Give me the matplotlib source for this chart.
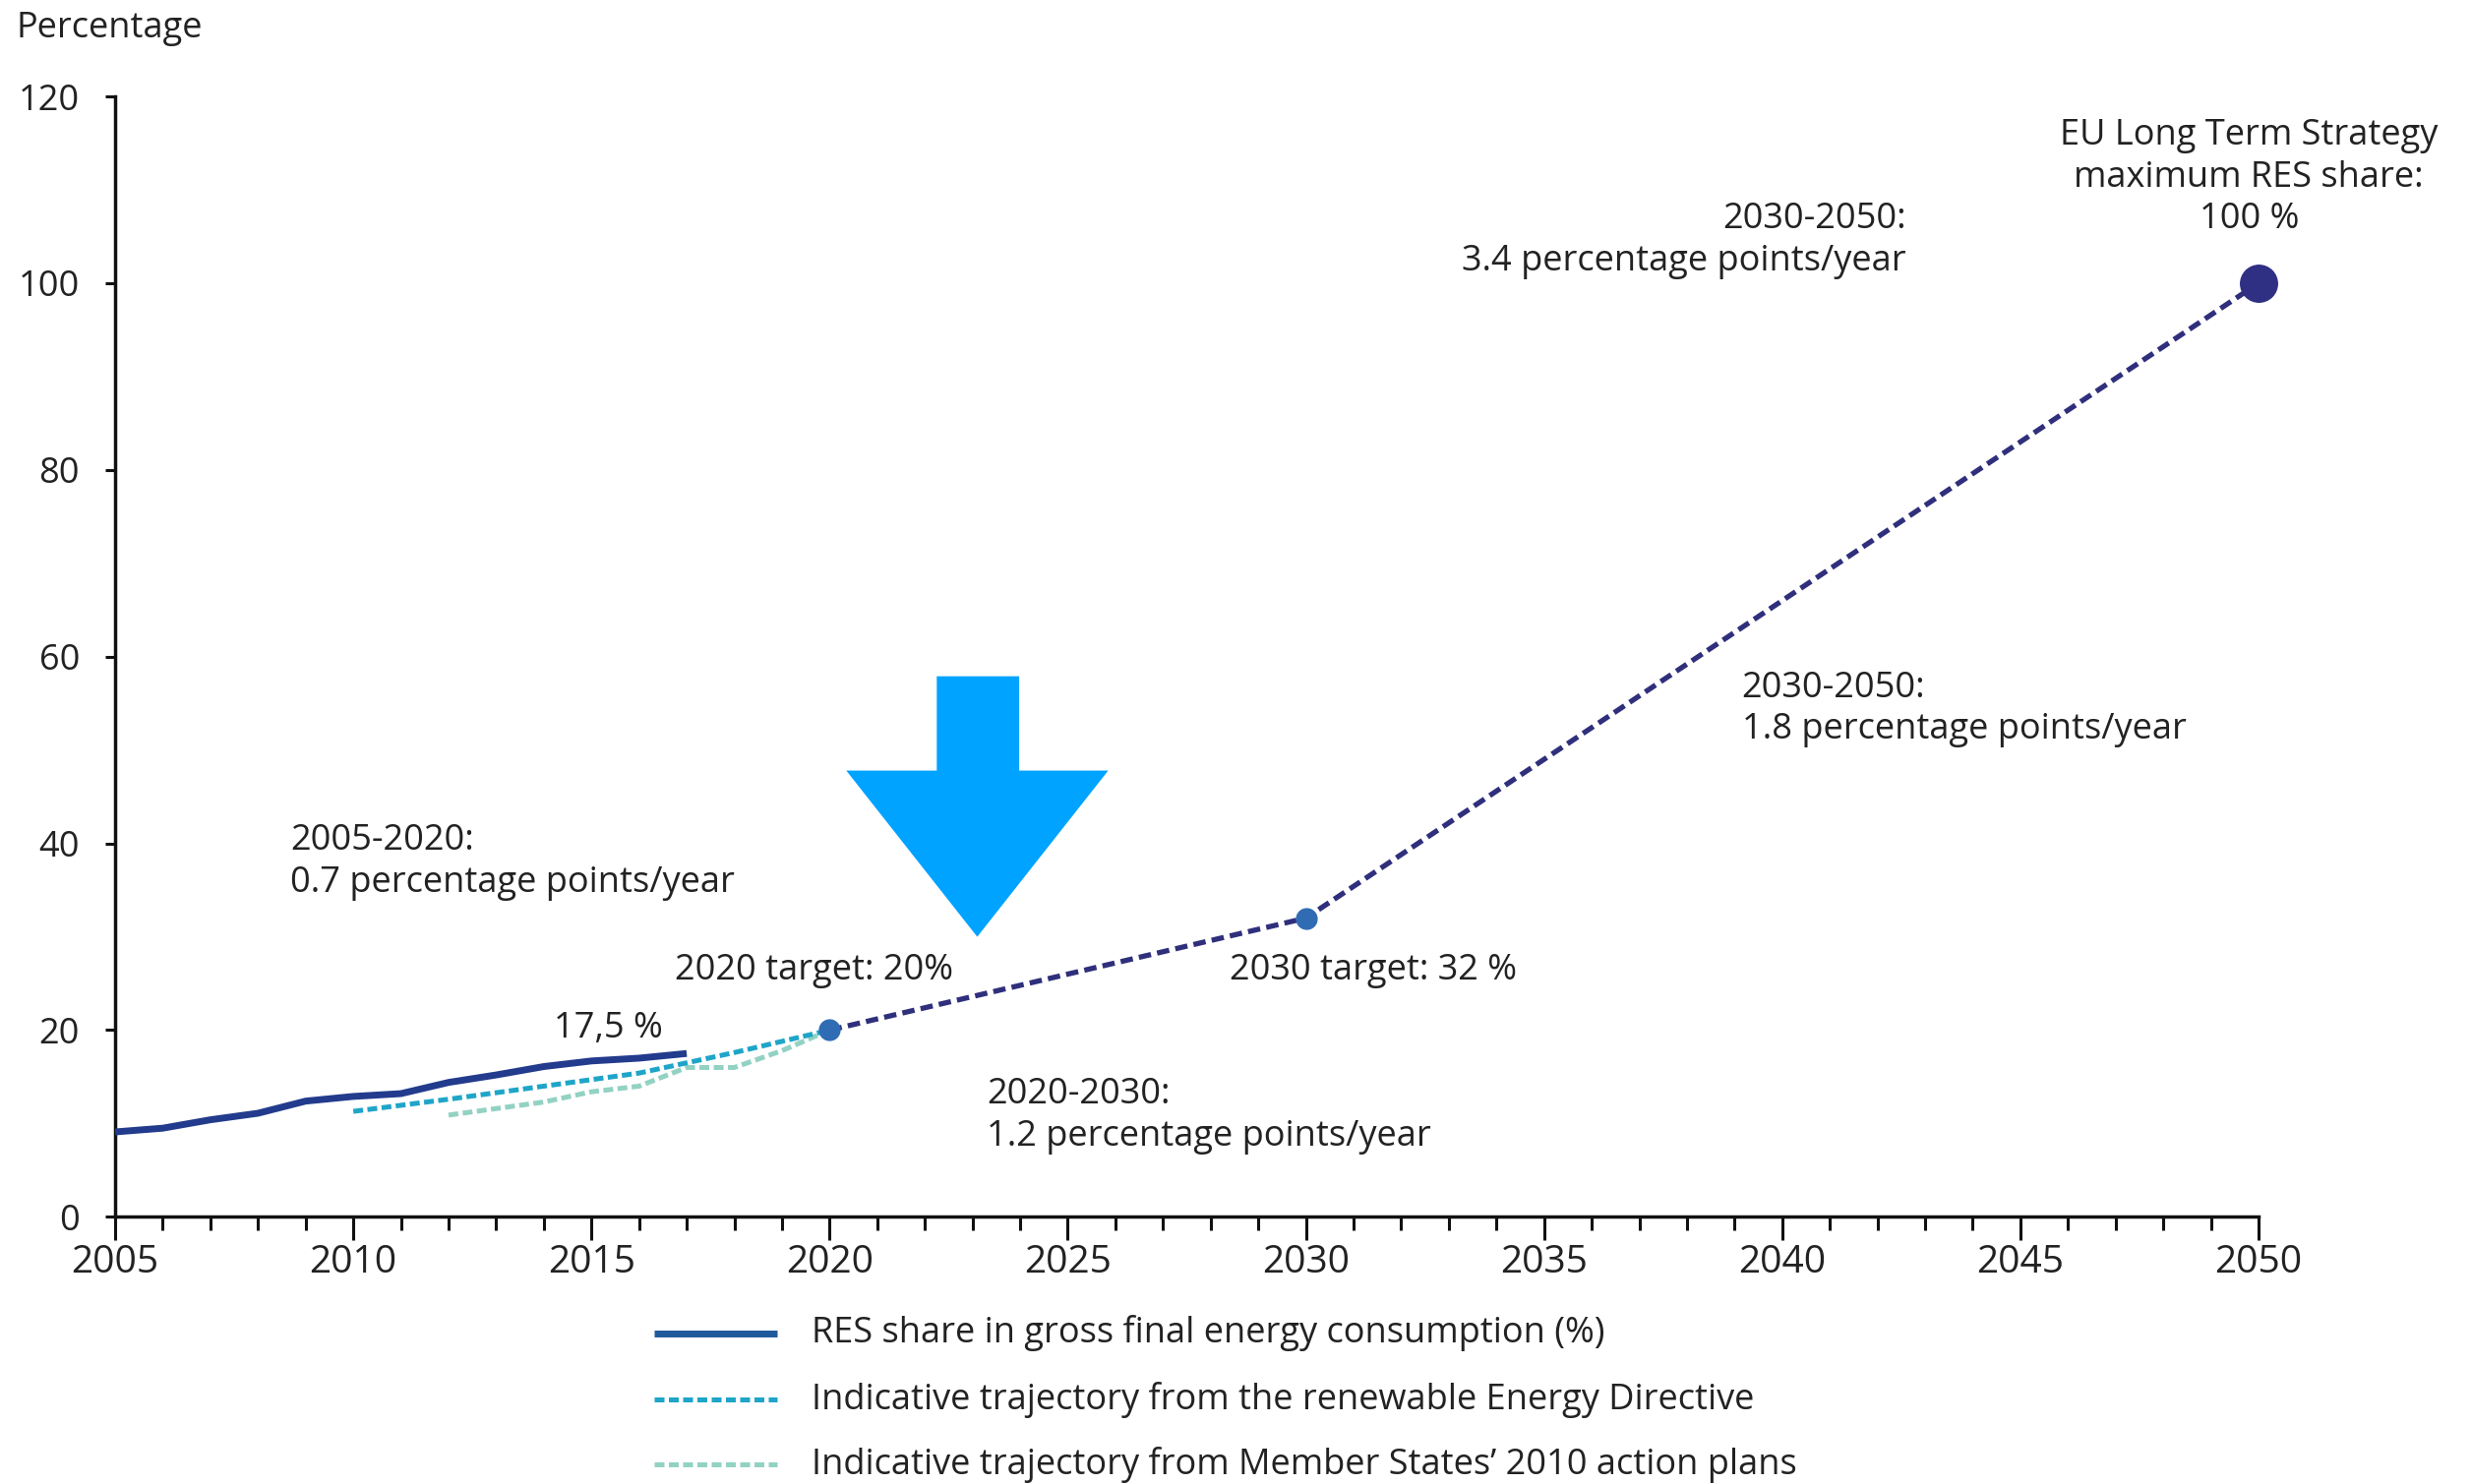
import matplotlib
matplotlib.use("Agg")
import matplotlib.pyplot as plt
from matplotlib.lines import Line2D
from matplotlib.patches import Polygon

plt.rcParams['font.family'] = ['Open Sans', 'DejaVu Sans']

# ---- data ----
res_years = [2005, 2006, 2007, 2008, 2009, 2010, 2011, 2012, 2013, 2014, 2015, 2016, 2017]
res_share = [9.1, 9.5, 10.4, 11.1, 12.4, 12.9, 13.2, 14.4, 15.2, 16.1, 16.7, 17.0, 17.5]

red_years = [2010, 2012, 2014, 2016, 2017, 2018, 2020]
red_share = [11.3, 12.6, 14.0, 15.4, 16.5, 17.6, 20.0]

nreap_years = [2012, 2013, 2014, 2015, 2016, 2017, 2018, 2019, 2020]
nreap_share = [10.9, 11.6, 12.3, 13.4, 14.0, 16.0, 16.0, 17.8, 20.0]

proj_years = [2020, 2030, 2050]
proj_share = [20.0, 32.0, 100.0]

target_years = [2020, 2030]
target_share = [20.0, 32.0]

lts_year = [2050]
lts_share = [100.0]

legend_labels = ["RES share in gross final energy consumption (%)",
                 "Indicative trajectory from the renewable Energy Directive",
                 "Indicative trajectory from Member States\u2019 2010 action plans"]

# arrow polygon (annotation shape, in data units)
arrow_x = [2022.25, 2023.98, 2023.98, 2025.85, 2023.1, 2020.35, 2022.25]
arrow_y = [57.9, 57.9, 47.8, 47.8, 30.0, 47.8, 47.8]

C_RES = "#223b8c"
C_RED = "#1ea5c8"
C_NREAP = "#92d2c3"
C_PROJ = "#2f2f7c"
C_TGT = "#2f6cb4"
C_LTS = "#2f2f84"
TXT = "#222222"
FS = 26
LS = 1.25

fig = plt.figure(figsize=(25.12, 15.09), dpi=100)
ax = fig.add_axes([0.0466, 0.180, 0.8674, 0.755])

ax.plot(proj_years, proj_share, color=C_PROJ, lw=3.8, dashes=(2.4, 1.2), zorder=3)
ax.plot(nreap_years, nreap_share, color=C_NREAP, lw=3.6, dashes=(2.0, 0.9), zorder=3)
ax.plot(red_years, red_share, color=C_RED, lw=3.6, dashes=(2.0, 0.9), zorder=4)
ax.plot(res_years, res_share, color=C_RES, lw=5.0, solid_capstyle='butt', zorder=5)
ax.plot(target_years, target_share, 'o', color=C_TGT, ms=15, zorder=6)
ax.plot(lts_year, lts_share, 'o', color=C_LTS, ms=27, zorder=6, clip_on=False)

ax.add_patch(Polygon(list(zip(arrow_x, arrow_y)), closed=True, facecolor="#00a3ff",
                     edgecolor='none', zorder=7, clip_on=False))

ax.set_xlim(2005, 2050)
ax.set_ylim(0, 120)
ax.set_xticks(range(2005, 2051, 5))
ax.set_xticks(range(2005, 2051, 1), minor=True)
ax.set_yticks(range(0, 121, 20))
for s in ['top', 'right']:
    ax.spines[s].set_visible(False)
for s in ['left', 'bottom']:
    ax.spines[s].set_linewidth(2.5)
    ax.spines[s].set_color('#111111')
ax.tick_params(axis='x', which='major', direction='out', length=17, width=2.2,
               labelsize=28, pad=3, colors='#111111', labelcolor=TXT)
ax.tick_params(axis='x', which='minor', direction='out', length=10, width=2.2,
               colors='#111111')
ax.tick_params(axis='y', which='major', direction='out', length=7, width=2.2,
               labelsize=FS, pad=19, colors='#111111', labelcolor=TXT)

fig.text(0.0064, 0.981, "Percentage", fontsize=FS, color=TXT, ha='left', va='center')

ax.text(2008.67, 38.0, "2005-2020:\n0.7 percentage points/year", fontsize=FS, color=TXT,
        ha='left', va='center', linespacing=LS)
ax.text(2016.75, 26.4, "2020 target: 20%", fontsize=FS, color=TXT, ha='left', va='center')
ax.text(2015.35, 20.2, "17,5 %", fontsize=FS, color=TXT, ha='center', va='center')
ax.text(2023.3, 10.8, "2020-2030:\n1.2 percentage points/year", fontsize=FS, color=TXT,
        ha='left', va='center', linespacing=LS)
ax.text(2028.4, 26.4, "2030 target: 32 %", fontsize=FS, color=TXT, ha='left', va='center')
ax.text(2042.6, 104.6, "2030-2050:\n3.4 percentage points/year", fontsize=FS, color=TXT,
        ha='right', va='center', multialignment='right', linespacing=LS)
ax.text(2039.15, 54.4, "2030-2050:\n1.8 percentage points/year", fontsize=FS, color=TXT,
        ha='left', va='center', linespacing=LS)
ax.text(2049.8, 111.3, "EU Long Term Strategy\nmaximum RES share:\n100 %", fontsize=FS,
        color=TXT, ha='center', va='center', multialignment='center', linespacing=LS)

# legend (manual)
W, H = 2512, 1509
leg_rows_y = [1356, 1423, 1489]
styles = [dict(color="#1f5a9a", lw=5.0, solid_capstyle='butt'),
          dict(color=C_RED, lw=3.6, dashes=(2.0, 0.9)),
          dict(color=C_NREAP, lw=3.6, dashes=(2.0, 0.9))]
for yy, st, lab in zip(leg_rows_y, styles, legend_labels):
    yf = 1 - yy / H
    fig.add_artist(Line2D([665 / W, 790 / W], [yf, yf], transform=fig.transFigure, **st))
    fig.text(825 / W, yf, lab, fontsize=FS, color=TXT, ha='left', va='center')

fig.savefig("out.png", dpi=100, facecolor='white')
